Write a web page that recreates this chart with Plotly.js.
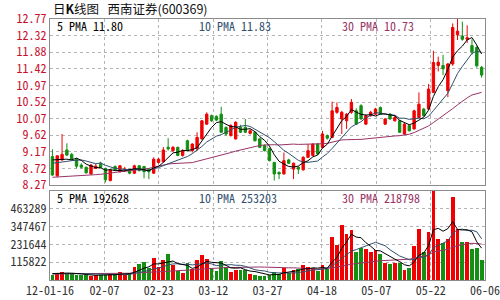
<!DOCTYPE html>
<html><head><meta charset="utf-8">
<script src="https://cdn.plot.ly/plotly-3.0.1.min.js"></script>
<style>html,body{margin:0;padding:0;background:#fff;}#chart{width:500px;height:300px;}</style>
</head><body><div id="chart"></div>
<script>
const dateLabels = ['12-01-16','02-07','02-23','03-12','03-27','04-18','05-07','05-22','06-06'];
const priceTicks = [8.27, 8.72, 9.17, 9.62, 10.07, 10.52, 10.97, 11.42, 11.87, 12.32, 12.77];
const priceTickText = ['8.27','8.72','9.17','9.62','10.07','10.52','10.97','11.42','11.88','12.32','12.77'];
const volTicks = [115822, 231644, 347467, 463289];
const volTickText = ['115822','231644','347467','463289'];

const open = [9.04,8.52,8.95,9.22,9.10,8.97,8.81,8.75,8.57,8.72,
  8.86,8.72,8.39,8.77,8.63,8.69,8.68,8.59,8.79,8.77,
  8.70,8.59,8.88,8.90,9.29,9.20,9.29,9.07,9.47,9.20,
  9.25,9.52,9.92,10.15,10.13,10.19,9.83,9.61,9.52,9.83,
  9.83,9.67,9.70,9.52,9.34,9.25,8.88,8.61,8.57,8.95,
  8.70,8.75,8.68,9.02,9.07,9.38,9.29,9.61,9.56,10.24,
  10.06,10.01,10.24,10.28,10.42,9.92,10.15,10.19,10.37,9.92,
  10.19,10.01,10.01,9.65,9.88,9.79,10.10,10.33,10.33,10.78,
  11.51,11.51,10.83,11.55,12.34,12.31,12.22,12.05,12.00,11.46];
const high = [9.24,9.08,9.65,9.40,9.14,9.00,8.86,8.77,8.84,8.84,
  8.90,8.74,8.70,8.80,8.81,8.76,8.71,8.82,8.81,8.79,
  8.72,9.02,9.00,9.30,9.54,9.33,9.31,9.24,9.50,9.40,
  9.70,10.03,10.24,10.18,10.16,10.39,9.86,9.92,10.00,9.90,
  10.06,9.78,9.73,9.55,9.37,9.28,8.90,8.64,9.15,8.98,
  8.88,8.78,9.05,9.38,9.40,9.41,9.74,9.64,10.53,10.51,
  10.28,10.22,10.60,10.35,10.46,10.18,10.28,10.36,10.40,10.08,
  10.22,10.15,10.04,9.95,9.91,10.31,10.78,10.36,11.01,11.91,
  11.75,11.80,11.58,12.65,12.77,12.70,12.60,12.22,12.05,11.50];
const low = [8.52,8.48,8.93,9.05,8.95,8.72,8.72,8.58,8.55,8.70,
  8.73,8.34,8.37,8.66,8.61,8.62,8.56,8.57,8.64,8.45,
  8.43,8.57,8.85,8.88,9.20,9.16,9.05,9.04,9.18,9.15,
  9.20,9.50,9.90,9.98,10.00,9.68,9.60,9.58,9.50,9.68,
  9.68,9.64,9.45,9.27,9.18,8.91,8.39,8.43,8.55,8.84,
  8.43,8.57,8.66,9.00,9.05,9.09,9.27,9.50,9.54,10.20,
  9.65,9.79,10.20,9.90,10.04,9.90,10.12,10.17,10.17,9.90,
  10.04,9.99,9.68,9.63,9.72,9.77,10.08,10.13,10.31,10.76,
  11.35,11.25,10.65,11.50,12.20,12.18,12.12,11.80,11.45,11.18];
const close = [8.54,9.06,9.10,9.08,8.97,8.78,8.75,8.60,8.81,8.78,
  8.75,8.41,8.68,8.68,8.79,8.70,8.59,8.79,8.66,8.63,
  8.63,8.97,8.97,9.22,9.25,9.29,9.07,9.20,9.20,9.38,
  9.56,10.01,10.19,10.01,10.03,9.70,9.65,9.88,9.97,9.70,
  9.70,9.74,9.47,9.29,9.20,8.93,8.57,8.57,8.93,8.86,
  8.86,8.70,9.02,9.20,9.38,9.11,9.65,9.54,10.28,10.37,
  10.24,10.19,10.51,9.92,10.06,10.15,10.24,10.33,10.19,10.06,
  10.06,10.10,9.70,9.92,9.74,10.28,10.46,10.15,10.87,11.59,
  11.60,11.42,11.55,12.54,12.44,12.22,12.26,11.88,11.50,11.25];
const volume = [35000,46000,53000,46000,42000,30000,30000,30000,28000,35000,
  35000,30000,42000,30000,53000,35000,46000,86000,101000,116000,
  80000,141000,86000,128000,167000,95000,57000,46000,108000,73000,
  130000,161000,134000,77000,57000,123000,86000,50000,68000,68000,
  64000,40000,35000,28000,28000,35000,50000,42000,79000,46000,
  68000,72000,95000,83000,79000,57000,95000,73000,278000,227000,
  359000,300000,328000,183000,205000,199000,183000,192000,167000,112000,
  101000,108000,112000,64000,75000,222000,333000,183000,311000,586000,
  267000,240000,267000,538000,333000,249000,249000,199000,209000,130000];

// moving-average values at the start of the window (earlier history not shown)
const ma5Early = [8.95,8.96,8.97,8.97];
const ma10Early = [8.86,8.87,8.89,8.91,8.93,8.95,8.95,8.92,8.88];
const ma30Early = [8.48,8.49,8.50,8.51,8.51,8.52,8.52,8.53,8.54,8.55,
  8.56,8.57,8.59,8.61,8.63,8.64,8.66,8.67,8.68,8.70,
  8.72,8.75,8.79,8.81,8.84,8.85,8.86,8.86,8.86];
const volMa5Early = [42000,44000,45000,45000];
const volMa10Early = [40000,41000,42000,42000,43000,42000,41000,40000,40000];
const volMa30Early = [40000,40000,40000,40000,40000,40000,40000,40000,40000,41000,
  41000,41000,42000,42000,43000,43000,44000,45000,46000,47000,
  48000,50000,52000,54000,57000,59000,60000,62000,63000];

const priceHeaders = ['5 PMA 11.80','10 PMA 11.83','30 PMA 10.73'];
const volHeaders = ['5 PMA 192628','10 PMA 253203','30 PMA 218798'];
const titleText = '日<b>K</b>线图\u00a0\u00a0\u00a0西南证券(600369)';

function movingAvg(arr, n, early) {
  return arr.map((v, i) => {
    if (i < early.length) return early[i];
    let s = 0;
    for (let k = i - n + 1; k <= i; k++) s += arr[k];
    return s / n;
  });
}

const xs = close.map((_, i) => i);
const RED = '#f00000', GREEN = '#138f13';
const C5 = '#000000', C10 = '#2f4f6f', C30 = '#993366';
const volColors = close.map((c, i) => c >= open[i] ? RED : GREEN);

const xMin = -0.5, xMax = 89.7;
const xt = dateLabels.map((_, k) => Math.round((xMin + k * (xMax - xMin) / (dateLabels.length - 1)) * 1000) / 1000);
xt[xt.length - 1] = xMax - 0.001;
xt[0] = xMin + 0.001;

const mono = "'Noto Sans Mono CJK SC', 'DejaVu Sans Mono', monospace";

const traces = [
  {type:'candlestick', x: xs, open: open, high: high, low: low, close: close,
   xaxis:'x', yaxis:'y',
   increasing:{line:{color:RED, width:1}, fillcolor:RED},
   decreasing:{line:{color:GREEN, width:1}, fillcolor:GREEN},
   whiskerwidth:0, hoverinfo:'skip'},
  {type:'scatter', mode:'lines', x: xs, y: movingAvg(close, 30, ma30Early), line:{color:C30, width:1}, xaxis:'x', yaxis:'y'},
  {type:'scatter', mode:'lines', x: xs, y: movingAvg(close, 10, ma10Early), line:{color:C10, width:1}, xaxis:'x', yaxis:'y'},
  {type:'scatter', mode:'lines', x: xs, y: movingAvg(close, 5, ma5Early), line:{color:C5, width:1}, xaxis:'x', yaxis:'y'},
  {type:'bar', x: xs, y: volume, marker:{color: volColors, line:{width:0}}, width:0.78, xaxis:'x2', yaxis:'y2'},
  {type:'scatter', mode:'lines', x: xs, y: movingAvg(volume, 30, volMa30Early), line:{color:C30, width:1}, xaxis:'x2', yaxis:'y2'},
  {type:'scatter', mode:'lines', x: xs, y: movingAvg(volume, 10, volMa10Early), line:{color:C10, width:1}, xaxis:'x2', yaxis:'y2'},
  {type:'scatter', mode:'lines', x: xs, y: movingAvg(volume, 5, volMa5Early), line:{color:C5, width:1}, xaxis:'x2', yaxis:'y2'}
];

const gridCommon = {showgrid:true, gridcolor:'#b4b4b4', griddash:'dot', gridwidth:1,
  showline:true, mirror:true, linecolor:'#8c8c8c', linewidth:1, zeroline:false, ticks:'', fixedrange:true};

const pH = 0.364, vH = 0.341;
const layout = {
  width:500, height:300,
  margin:{l:50, r:15, t:19, b:20, pad:0},
  paper_bgcolor:'#ffffff', plot_bgcolor:'#ffffff',
  showlegend:false,
  bargap:0,
  xaxis: Object.assign({}, gridCommon, {domain:[0,1], anchor:'y', range:[xMin, xMax],
    tickmode:'array', tickvals: xt, showticklabels:false, rangeslider:{visible:false}}),
  xaxis2: Object.assign({}, gridCommon, {domain:[0,1], anchor:'y2', matches:'x', range:[xMin, xMax],
    tickmode:'array', tickvals: xt, ticktext: dateLabels, showticklabels:true,
    ticklabeloverflow:'allow', tickfont:{family:mono, size:12, color:'#333333'}}),
  yaxis: Object.assign({}, gridCommon, {domain:[pH,1], anchor:'x', range:[8.27, 12.77],
    tickmode:'array', tickvals: priceTicks, ticktext: priceTickText,
    tickfont:{family:mono, size:12, color:'#c8102e'}}),
  yaxis2: Object.assign({}, gridCommon, {domain:[0,vH], anchor:'x2', range:[0, 579111],
    tickmode:'array', tickvals: volTicks, ticktext: volTickText,
    tickfont:{family:mono, size:12, color:'#333333'}}),
  annotations: []
};

function px2paperX(px) { return (px - 50) / 435; }
function px2paperY(py) { return (280 - py) / 261; }

layout.annotations.push({xref:'paper', yref:'paper', x: px2paperX(51), y: px2paperY(8),
  xanchor:'left', yanchor:'middle', showarrow:false, text: titleText,
  font:{family:"'Noto Sans CJK SC', 'Noto Sans Mono CJK SC', sans-serif", size:12.5, color:'#111111'}});

const headerX = [55, 197, 340];
const headerColors = [C5, C10, C30];
priceHeaders.forEach((t, k) => layout.annotations.push({xref:'paper', yref:'paper',
  x: px2paperX(headerX[k]), y: px2paperY(25.5), xanchor:'left', yanchor:'middle', showarrow:false,
  text:t, font:{family:mono, size:12, color:headerColors[k]}}));
volHeaders.forEach((t, k) => layout.annotations.push({xref:'paper', yref:'paper',
  x: px2paperX(headerX[k]), y: px2paperY(197), xanchor:'left', yanchor:'middle', showarrow:false,
  text:t, font:{family:mono, size:12, color:headerColors[k]}}));

Plotly.newPlot('chart', traces, layout, {staticPlot:true, displayModeBar:false});
</script>
</body></html>
